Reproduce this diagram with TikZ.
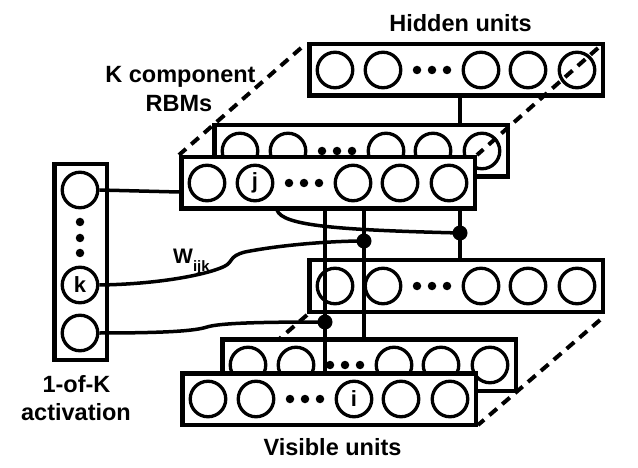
\documentclass[tikz,border=0pt]{standalone}
\usepackage{fontspec}
\setmainfont{Liberation Sans}
\begin{document}
\begin{tikzpicture}[x=1pt,y=-1pt]
\tikzset{
  layerbox/.style={draw, line width=4.5pt, fill=white, rectangle, minimum width=293.5pt, minimum height=51.5pt, inner sep=0pt},
  kbox/.style={draw, line width=4.5pt, fill=white, rectangle, minimum width=52.5pt, minimum height=195.5pt, inner sep=0pt},
  unit/.style={draw, circle, line width=3.3pt, fill=white, minimum size=35.5pt, inner sep=0pt, font=\fontsize{22}{22}\selectfont\bfseries},
  rowdot/.style={fill, circle, minimum size=8.5pt, inner sep=0pt},
  junction/.style={fill, circle, minimum size=15pt, inner sep=0pt},
  wire/.style={line width=3.5pt},
  guide/.style={line width=4pt, dash pattern=on 10pt off 7pt},
  lbl/.style={font=\fontsize{23.5}{28}\selectfont\bfseries, inner sep=0pt, anchor=base},
}
\newcommand\rbmrow[5]{%
  \node[layerbox] (#1) at (#2+149,#3+28) {};
  \node[unit] (#1-1) at (#2+28,#3+28) {};
  \node[unit] (#1-2) at (#2+76,#3+28) {#4};
  \node[rowdot] (#1-d1) at (#2+110,#3+28) {};
  \node[rowdot] (#1-d2) at (#2+125,#3+28) {};
  \node[rowdot] (#1-d3) at (#2+140,#3+28) {};
  \node[unit] (#1-3) at (#2+174,#3+28) {#5};
  \node[unit] (#1-4) at (#2+221,#3+28) {};
  \node[unit] (#1-5) at (#2+270,#3+28) {};
}
\useasboundingbox (0,0) rectangle (638,468);

% visible layer guides (behind)
\coordinate (vbl3) at (307,315);
\coordinate (vbr3) at (600,320);
\coordinate (vbl1) at (180,425);
\coordinate (vbr1) at (478,425);
\draw[guide] (vbl3) -- (vbl1);
\draw[guide] (vbr3) -- (vbr1);

% hidden layers
\rbmrow{H3}{307}{42}{}{}
\rbmrow{H2}{212}{123}{}{}
\coordinate (htl3) at (301,48);
\coordinate (htr3) at (598,48);
\coordinate (htl1) at (179,155);
\coordinate (htr1) at (477,155);
\draw[guide] (htl3) -- (htl1);
\draw[guide] (htr3) -- (htr1);
\draw[wire] (H3.south -| 460,0) -- (H2.north -| 460,0);
\rbmrow{H1}{179}{155}{j}{}

% visible layers
\rbmrow{V3}{307}{258}{}{}
\rbmrow{V2}{220}{337}{}{}

% junction positions
\coordinate (d1) at (460,233);
\coordinate (d2) at (364,241);
\coordinate (d3) at (325,322);
\coordinate (v1top) at (325,373);

\draw[wire] (H1.south -| d1) -- (d1) -- (V3.north -| d1);
\draw[wire] (H1.south -| d2) -- (d2) -- (V2.north -| d2);
\draw[wire] (H1.south -| d3) -- (d3) -- (v1top);

\rbmrow{V1}{180}{371}{}{i}

% 1-of-K activation column
\node[kbox] (K) at (80.5,262) {};
\node[unit] (K-1) at (80,190) {};
\node[rowdot] (K-d1) at (80,222) {};
\node[rowdot] (K-d2) at (80,238) {};
\node[rowdot] (K-d3) at (80,253) {};
\node[unit] (K-k) at (80,285) {k};
\node[unit] (K-2) at (80,333) {};

% connections from the 1-of-K units
\coordinate (h1in) at (179,192);
\draw[wire] (K-1.east) -- (h1in);
\draw[wire] (K-k.east) .. controls (165,284) and (212,273) .. (225,266)
  .. controls (233,262) and (229,256) .. (245,252)
  .. controls (280,245) and (330,241) .. (d2);
\draw[wire] (K-2.east) .. controls (165,333) and (195,331) .. (207,327)
  .. controls (220,323) and (260,322) .. (d3);
\coordinate (jtail) at (277,210);
\draw[wire] (jtail) .. controls (282,226) and (340,230) .. (d1);

\node[junction] (j1) at (d1) {};
\node[junction] (j2) at (d2) {};
\node[junction] (j3) at (d3) {};

% labels
\node[lbl] (lhid) at (460.5,32) {Hidden units};
\node[lbl] (lkc) at (180.5,83) {K component};
\node[lbl] (lrbm) at (179,112) {RBMs};
\node[lbl] (l1k) at (76.5,392) {1-of-K};
\node[lbl] (lact) at (76,420) {activation};
\node[lbl] (lvis) at (332.5,455) {Visible units};
\node[anchor=base west, inner sep=0pt, font=\fontsize{21}{21}\selectfont\bfseries] (lw) at (173,263)
  {W\raisebox{-9pt}{\fontsize{15}{15}\selectfont ijk}};
\end{tikzpicture}
\end{document}
